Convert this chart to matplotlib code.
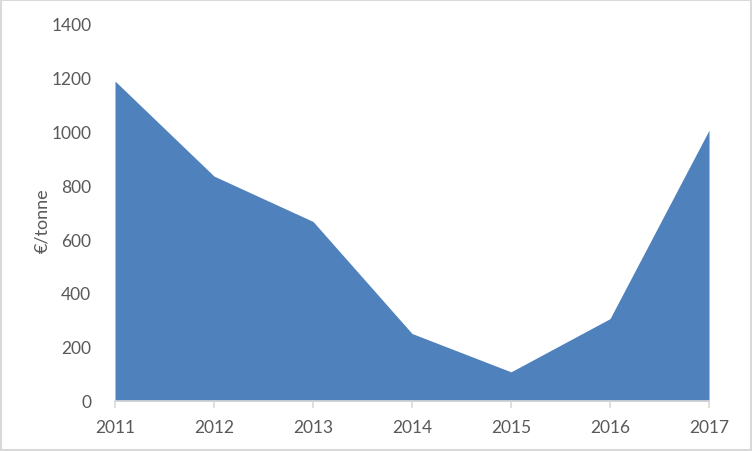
import matplotlib
matplotlib.use("Agg")
import matplotlib.pyplot as plt
from matplotlib.patches import Rectangle

years = [2011, 2012, 2013, 2014, 2015, 2016, 2017]
values = [1185, 833, 665, 250, 108, 305, 1003]
yticks = [0, 200, 400, 600, 800, 1000, 1200, 1400]
ylabel = "€/tonne"

plt.rcParams['font.family'] = ['Lato', 'DejaVu Sans']
fig = plt.figure(figsize=(7.52, 4.52), dpi=100)
fig.patches.append(Rectangle((0.0015, 0.002), 0.997, 0.996, transform=fig.transFigure,
                             fill=False, edgecolor='#d9d9d9', linewidth=1.5))
ax = fig.add_axes([115/752, 1-402/452, (709-115)/752, (402-24)/452])
ax.fill_between(years, values, 0, color='#4F81BD', linewidth=0)
ax.set_xlim(2011, 2017)
ax.set_ylim(0, 1400)
ax.set_xticks(years)
ax.set_xticklabels([str(y) for y in years])
ax.set_yticks(yticks)
for s in ['top', 'right', 'left']:
    ax.spines[s].set_visible(False)
ax.spines['bottom'].set_color('#d9d9d9')
ax.spines['bottom'].set_linewidth(1.2)
ax.tick_params(axis='x', colors='#d9d9d9', length=5, width=1.2, labelcolor='#595959', labelsize=12.5, pad=8)
ax.tick_params(axis='y', length=0, labelcolor='#595959', labelsize=12.5, pad=17)
ax.set_ylabel(ylabel, color='#595959', fontsize=13, labelpad=0)
ax.yaxis.set_label_coords(-65/594, 0.48)
fig.savefig('out.png', dpi=100)
